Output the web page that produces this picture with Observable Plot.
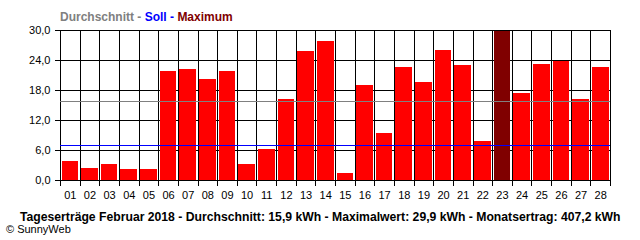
<!DOCTYPE html>
<html><head><meta charset="utf-8">
<script src="https://cdn.jsdelivr.net/npm/d3@7"></script>
<script src="https://cdn.jsdelivr.net/npm/@observablehq/plot@0.6"></script>
<style>body{margin:0;background:#fff;} svg{display:block;} svg line, svg path, svg rect{shape-rendering:crispEdges;}</style>
</head><body><div id="chart"></div>
<script>
const days = ["01","02","03","04","05","06","07","08","09","10","11","12","13","14","15","16","17","18","19","20","21","22","23","24","25","26","27","28"];
const values = [3.9,2.5,3.3,2.3,2.3,21.9,22.3,20.3,21.9,3.3,6.3,16.3,25.9,27.9,1.5,19.1,9.5,22.7,19.7,26.1,23.1,7.9,29.9,17.5,23.3,23.9,16.3,22.7];
const average = 15.9;
const target = 7.0;
const yTicks = [0,6,12,18,24,30];
const legendItems = [
  {text:"Durchschnitt", color:"#808080"},
  {text:" - ", color:"#808080"},
  {text:"Soll", color:"#0000ff"},
  {text:" - ", color:"#0000ff"},
  {text:"Maximum", color:"#800000"}
];
const caption = "Tageserträge Februar 2018 - Durchschnitt: 15,9 kWh - Maximalwert: 29,9 kWh - Monatsertrag: 407,2 kWh";
const credit = "© SunnyWeb";

const data = days.map((d,i)=>({day:i+1, label:d, value:values[i]}));
const maxVal = d3.max(values);
const bounds = d3.range(0, days.length+1).map(i=>i+0.5);

const chart = Plot.plot({
  width: 640, height: 240,
  marginLeft: 60, marginRight: 30, marginTop: 30, marginBottom: 60,
  style: {fontFamily: "'Liberation Sans', Arial, sans-serif", fontSize: "11px", background: "#fff", color: "#000"},
  x: {domain: [0.5, days.length+0.5], axis: null, label: null},
  y: {domain: [0, 30], axis: null, label: null},
  marks: [
    Plot.ruleY(yTicks, {stroke: "#000", strokeWidth: 1}),
    Plot.ruleX(bounds, {y1: -1.1, y2: 30, stroke: "#000", strokeWidth: 1}),
    Plot.rectY(data, {x1: d=>d.day-0.5, x2: d=>d.day+0.5, y: "value",
      fill: d=>d.value===maxVal ? "#800000" : "#ff0000", insetLeft: 1.5, insetRight: 1.5}),
    Plot.ruleY([average], {stroke: "#808080", strokeWidth: 1}),
    Plot.ruleY([target], {stroke: "#0000ff", strokeWidth: 1}),
    Plot.axisY({ticks: yTicks, tickSize: 5, tickPadding: 5, stroke: "#000", label: null,
      tickFormat: d=>d.toFixed(1).replace(".", ","), fill: "#000"}),
    Plot.axisX({ticks: data.map(d=>d.day), tickSize: 0, tickPadding: 11, label: null,
      tickFormat: d=>days[d-1], fill: "#000"})
  ]
});
document.getElementById("chart").appendChild(chart);

const svg = d3.select(chart);
const font = "'Liberation Sans', Arial, sans-serif";
const leg = svg.append("text").attr("x", 60).attr("y", 21)
  .attr("font-family", font).attr("text-anchor", "start")
  .attr("font-size", 12).attr("font-weight", "bold")
  .style("white-space", "pre");
legendItems.forEach(it => leg.append("tspan").attr("fill", it.color).text(it.text));

svg.append("text").attr("x", 20).attr("y", 221)
  .attr("font-family", font).attr("text-anchor", "start")
  .attr("font-size", 12.2).attr("font-weight", "bold").attr("fill", "#000")
  .text(caption);
svg.append("text").attr("x", 6).attr("y", 233)
  .attr("font-family", font).attr("text-anchor", "start")
  .attr("font-size", 11).attr("fill", "#000")
  .text(credit);
</script>
</body></html>
